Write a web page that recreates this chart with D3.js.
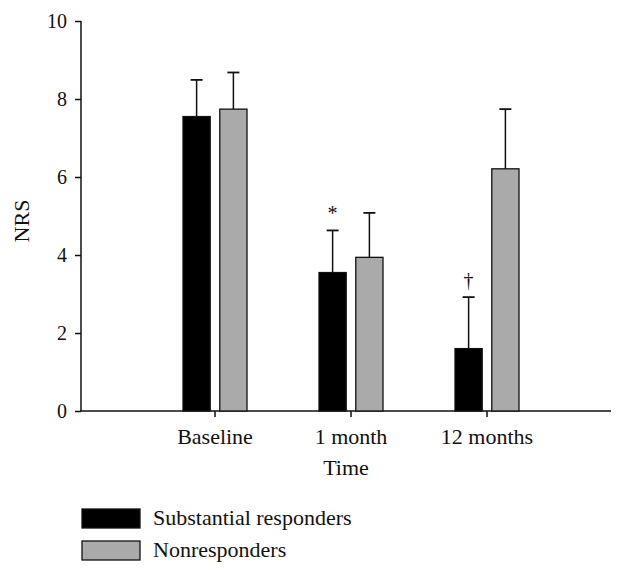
<!DOCTYPE html>
<html><head><meta charset="utf-8">
<script src="https://cdn.jsdelivr.net/npm/d3@7"></script>
<style>body{margin:0;background:#fff}svg{display:block}text{font-family:"Liberation Serif","DejaVu Serif",serif;fill:#111}</style>
</head><body>
<script>
const categories = ["Baseline", "1 month", "12 months"];
const seriesNames = ["Substantial responders", "Nonresponders"];
const responders = [7.55, 3.55, 1.60];
const respondersErr = [8.49, 4.63, 2.92];
const nonresponders = [7.74, 3.94, 6.21];
const nonrespondersErr = [8.68, 5.08, 7.74];
const markers = ["", "*", "†"];
const yTicks = [0, 2, 4, 6, 8, 10];
const colors = ["#000000", "#aaaaaa"];

const W = 638, H = 575;
const svg = d3.select("body").append("svg").attr("width", W).attr("height", H);

const y = d3.scaleLinear().domain([0, 10]).range([411, 21]);
const x = d3.scaleBand().domain(categories).range([147, 555]);
const sub = d3.scaleBand().domain(seriesNames).range([-32, 32]).paddingInner(0.26);

const data = categories.map((c, i) => ({
  cat: c,
  bars: [
    {s: seriesNames[0], v: responders[i], e: respondersErr[i], m: markers[i]},
    {s: seriesNames[1], v: nonresponders[i], e: nonrespondersErr[i], m: ""}
  ]
}));

// axes
const yAxis = d3.axisLeft(y).tickValues(yTicks).tickSize(6).tickPadding(8);
const gy = svg.append("g").attr("transform", "translate(81,0)").call(yAxis);
gy.select(".domain").attr("stroke", "#111").attr("stroke-width", 1.5).attr("d", "M0," + y(10) + "V" + y(0));
gy.selectAll(".tick line").attr("stroke", "#111").attr("stroke-width", 1.5);
gy.selectAll(".tick text").style("font-size", "20px").attr("font-family", null).attr("fill", "#111");

const xAxis = d3.axisBottom(x).tickSize(6).tickPadding(11);
const gx = svg.append("g").attr("transform", "translate(0,411)").call(xAxis);
gx.select(".domain").attr("stroke", "#111").attr("stroke-width", 1.5).attr("d", "M80,0H611");
gx.selectAll(".tick line").attr("stroke", "#111").attr("stroke-width", 1.5);
gx.selectAll(".tick text").style("font-size", "22px").attr("font-family", null).attr("fill", "#111");

// bars
const groups = svg.append("g").selectAll("g").data(data).join("g")
  .attr("transform", d => `translate(${x(d.cat) + x.bandwidth() / 2},0)`);

groups.selectAll("line.err").data(d => d.bars).join("line").attr("class", "err")
  .attr("x1", d => sub(d.s) + sub.bandwidth() / 2).attr("x2", d => sub(d.s) + sub.bandwidth() / 2)
  .attr("y1", d => y(d.v)).attr("y2", d => y(d.e))
  .attr("stroke", "#111").attr("stroke-width", 1.5);
groups.selectAll("line.cap").data(d => d.bars).join("line").attr("class", "cap")
  .attr("x1", d => sub(d.s) + sub.bandwidth() / 2 - 6).attr("x2", d => sub(d.s) + sub.bandwidth() / 2 + 6)
  .attr("y1", d => y(d.e)).attr("y2", d => y(d.e))
  .attr("stroke", "#111").attr("stroke-width", 1.8);
groups.selectAll("rect").data(d => d.bars).join("rect")
  .attr("x", d => sub(d.s)).attr("width", sub.bandwidth())
  .attr("y", d => y(d.v)).attr("height", d => y(0) - y(d.v))
  .attr("fill", (d, i) => colors[i]).attr("stroke", "#111").attr("stroke-width", 1.3);
groups.selectAll("text.mark").data(d => d.bars.filter(b => b.m)).join("text").attr("class", "mark")
  .attr("x", d => sub(d.s) + sub.bandwidth() / 2).attr("y", d => y(d.e) - 10)
  .attr("text-anchor", "middle").style("font-size", "20px").text(d => d.m);

// axis titles
svg.append("text").attr("transform", "translate(29,221) rotate(-90)").attr("text-anchor", "middle")
  .style("font-size", "22px").text("NRS");
svg.append("text").attr("x", 346).attr("y", 475).attr("text-anchor", "middle")
  .style("font-size", "22px").text("Time");

// legend
const lg = svg.append("g").attr("transform", "translate(82,509)");
const li = lg.selectAll("g").data(seriesNames).join("g").attr("transform", (d, i) => `translate(0,${i * 32})`);
li.append("rect").attr("width", 58).attr("height", 19).attr("fill", (d, i) => colors[i])
  .attr("stroke", "#111").attr("stroke-width", 1.3);
li.append("text").attr("x", 71).attr("y", 16).style("font-size", "22px").text(d => d);
</script>
</body></html>
